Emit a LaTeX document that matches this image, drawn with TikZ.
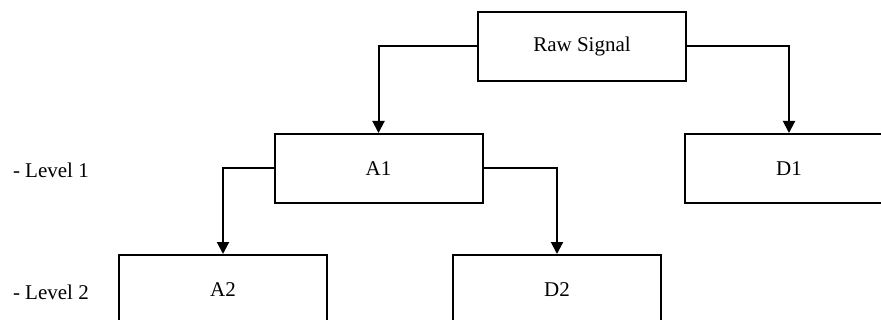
\documentclass[tikz,border=0pt]{standalone}
\usepackage{fontspec}
\setmainfont{Liberation Serif}
\usetikzlibrary{arrows.meta}

\begin{document}
\begin{tikzpicture}
          [x=0.5pt,y=-0.5pt,line width=1pt,
           box/.style={draw,shape=rectangle,minimum width=104pt,minimum height=34.5pt,font=\fontsize{10.5}{12}\selectfont},
           level/.style={anchor=west,inner sep=0pt,font=\fontsize{10.5}{12}\selectfont},
           arr/.style={-{Triangle[width=6pt,length=6pt]}}]

          \useasboundingbox (0, 0) rectangle (881, 320);
          \clip (0, 0) rectangle (881, 320);

          \node[box] (raw) at (582, 46.5) {Raw Signal};
          \node[box] (a1) at (378.5, 168.5) {A1};
          \node[box] (d1) at (789, 168.5) {D1};
          \node[box] (a2) at (223, 289.5) {A2};
          \node[box] (d2) at (557, 289.5) {D2};

          \node[level] (lvl1) at (12, 170) {- Level 1};
          \node[level] (lvl2) at (12, 292) {- Level 2};

          \draw[arr] (raw.west) -| (a1.north);
          \draw[arr] (raw.east) -| (d1.north);
          \draw[arr] (a1.west) -| (a2.north);
          \draw[arr] (a1.east) -| (d2.north);
        \end{tikzpicture}
\end{document}
